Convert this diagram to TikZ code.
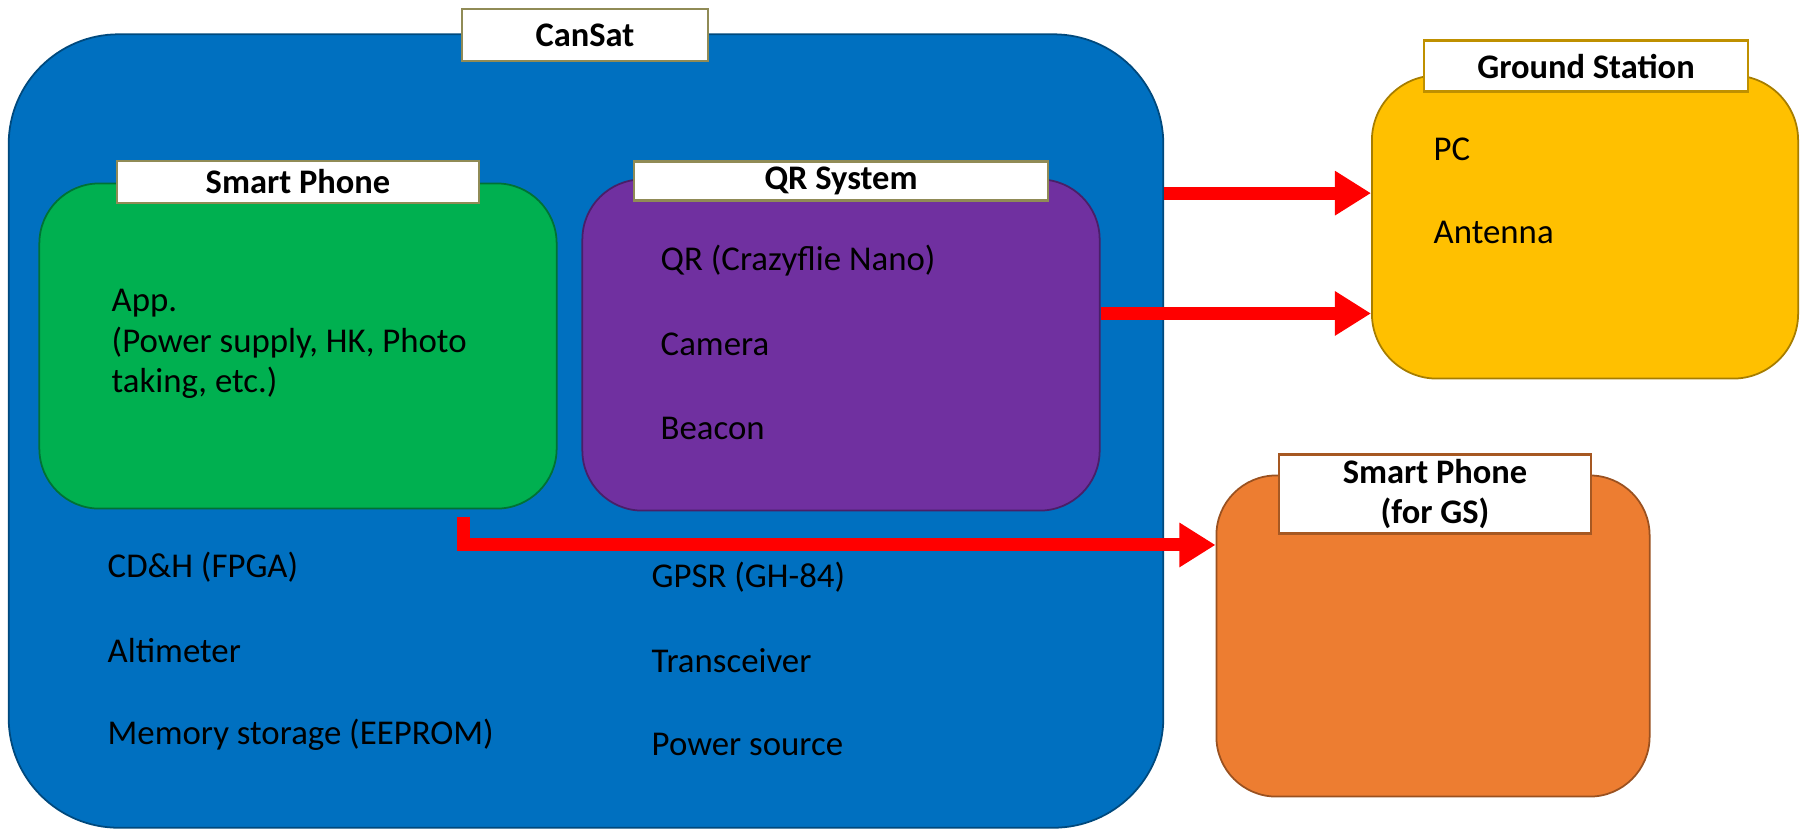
\documentclass[tikz,border=0pt]{standalone}
\usepackage{fontspec}
\setmainfont{Carlito}
\usetikzlibrary{arrows.meta}
\definecolor{csblue}{HTML}{0070C0}
\definecolor{phgreen}{HTML}{00B050}
\definecolor{qrpurple}{HTML}{7030A0}
\definecolor{gsyellow}{HTML}{FFC000}
\definecolor{gsorange}{HTML}{ED7D31}
\tikzset{
  panel/.style={draw=#1!65!black, fill=#1, rounded corners=0.6cm, line width=0.5pt},
  titlebox/.style={draw=gray!60!olive, fill=white, line width=0.6pt, inner sep=0pt, align=center,
    font=\fontsize{9.8}{11.5}\selectfont\bfseries},
  entry/.style={anchor=west, inner sep=0pt, align=left, font=\fontsize{9.9}{11.6}\selectfont},
  link/.style={red, line width=0.13cm, -{Triangle[width=0.42cm,length=0.36cm]}}
}
\begin{document}
\begin{tikzpicture}[x=0.01cm,y=-0.01cm]
\useasboundingbox (0,0) rectangle (1800,829);
% outer boxes
\node[panel=csblue, rounded corners=1.1cm, minimum width=11.54cm, minimum height=7.93cm] (cansat) at (586,431) {};
\node[panel=gsyellow, rounded corners=0.65cm, minimum width=4.26cm, minimum height=3.03cm] (gs) at (1585,227) {};
\node[panel=gsorange, minimum width=4.33cm, minimum height=3.21cm] (gsphone) at (1433,636) {};
% inner boxes
\node[panel=phgreen, minimum width=5.17cm, minimum height=3.25cm] (phone) at (298,346) {};
\node[panel=qrpurple, minimum width=5.17cm, minimum height=3.31cm] (qr) at (841,345) {};
% titles
\node[titlebox, minimum width=2.45cm, minimum height=0.52cm] (cansattl) at (585,35) {CanSat};
\node[titlebox, minimum width=3.61cm, minimum height=0.42cm] (phonetl) at (298,182) {Smart Phone};
\node[titlebox, minimum width=4.13cm, minimum height=0.39cm] (qrtl) at (841,181) {QR System};
\node[titlebox, draw=gsyellow!75!black, minimum width=3.23cm, minimum height=0.51cm] (gstl) at (1586,66) {Ground Station};
\node[titlebox, draw=gsorange!70!black, minimum width=3.11cm, minimum height=0.79cm] (gsphonetl) at (1435,494) {Smart Phone\\(for GS)};
% contents
\node[entry] (app) at (111,344) {App.\\(Power supply, HK, Photo\\taking, etc.)};
\foreach \t [count=\i] in {{QR (Crazyflie Nano)}, Camera, Beacon}
  \node[entry] (qr\i) at (660,{261+83.5*(\i-1)}) {\t};
\foreach \t [count=\i] in {{CD\&H (FPGA)}, Altimeter, {Memory storage (EEPROM)}}
  \node[entry] (cd\i) at (107,{567+84*(\i-1)}) {\t};
\foreach \t [count=\i] in {{GPSR (GH-84)}, Transceiver, {Power source}}
  \node[entry] (gp\i) at (651,{577+83.5*(\i-1)}) {\t};
\foreach \t [count=\i] in {PC, Antenna}
  \node[entry] (pc\i) at (1433,{149+83*(\i-1)}) {\t};
% links
\draw[link] (cansat.east |- gs.171) -- (gs.171);
\draw[link] (qr.east |- gs.202) -- (gs.202);
\draw[link] ([xshift=1.65cm,yshift=-0.08cm]phone.south) |- ([yshift=0.91cm]gsphone.west);
\end{tikzpicture}
\end{document}
